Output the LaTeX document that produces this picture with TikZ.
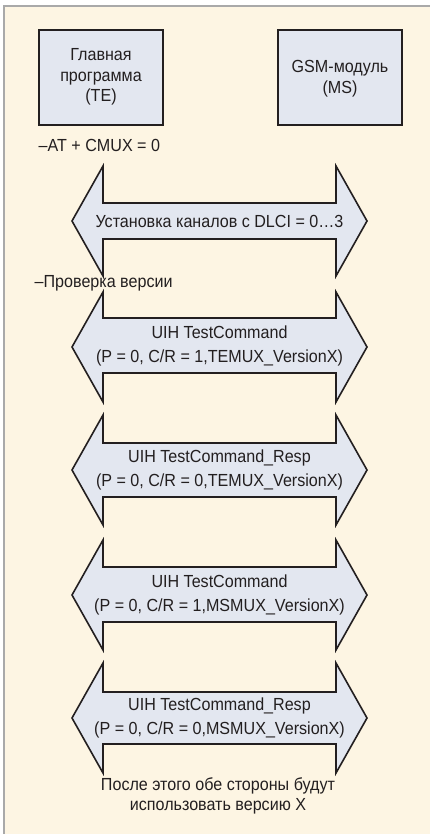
\documentclass[tikz,border=0pt]{standalone}
\usepackage{fontspec}
\setmainfont[FakeStretch=0.92]{Liberation Sans}
\definecolor{cream}{HTML}{FDF5E3}
\definecolor{boxfill}{HTML}{E3E7F0}
\definecolor{ink}{HTML}{231F20}
\definecolor{framegray}{HTML}{A9A9A9}
\tikzset{
  box/.style={draw=ink, line width=1.6pt, fill=boxfill},
  arrowshape/.style={draw=ink, line width=1.6pt, fill=boxfill, line join=miter},
  txt/.style={text=ink, font=\fontsize{17.5}{24}\selectfont, inner sep=0pt, align=center},
  boxtxt/.style={text=ink, font=\fontsize{17.5}{20.5}\selectfont, inner sep=0pt, align=center},
}
\newcommand{\dblarr}[5]{% headtop shafttop tip shaftbot headbot
  \path[arrowshape] (103,#1) -- (72,#3) -- (103,#5) -- (103,#4) -- (336,#4) -- (336,#5)
    -- (367,#3) -- (336,#1) -- (336,#2) -- (103,#2) -- cycle;}
\begin{document}
\begin{tikzpicture}[x=1pt,y=-1pt]
\useasboundingbox (0,0) rectangle (430,834);
\fill[white] (0,0) rectangle (430,834);
\fill[cream] (3.5,6.5) rectangle (430,834);
\draw[framegray, line width=2pt] (3.5,834) -- (3.5,6.5) -- (430,6.5);
% boxes
\draw[box] (39,30) rectangle (163,125);
\draw[box] (278,30) rectangle (402,125);
\node[boxtxt] (te) at (101,77) {Главная\\программа\\(TE)};
\node[boxtxt] (ms) at (340,78.5) {GSM-модуль\\(MS)};
\node[txt, anchor=west] (cmux) at (38.5,145) {–AT + CMUX = 0};
% arrows
\dblarr{166}{203}{221}{239}{276}
\node[txt] (a1) at (219.5,221) {Установка каналов с DLCI = 0…3};
\node[txt, anchor=west] (ver) at (34.5,283) {–Проверка версии};
\dblarr{292}{318}{347}{373}{402}
\node[txt] (a2) at (219.5,346) {UIH TestCommand\\(P = 0, C/R = 1,TEMUX\_VersionX)};
\dblarr{415}{443}{470}{497}{525}
\node[txt] (a3) at (219.5,470) {UIH TestCommand\_Resp\\(P = 0, C/R = 0,TEMUX\_VersionX)};
\dblarr{540}{567}{595}{622}{650}
\node[txt] (a4) at (219.5,595) {UIH TestCommand\\(P = 0, C/R = 1,MSMUX\_VersionX)};
\dblarr{663}{692}{718}{744}{773}
\node[txt] (a5) at (219.5,718) {UIH TestCommand\_Resp\\(P = 0, C/R = 0,MSMUX\_VersionX)};
\node[txt, font=\fontsize{17.5}{20}\selectfont] (after) at (218,796) {После этого обе стороны будут\\использовать версию X};
\end{tikzpicture}
\end{document}
